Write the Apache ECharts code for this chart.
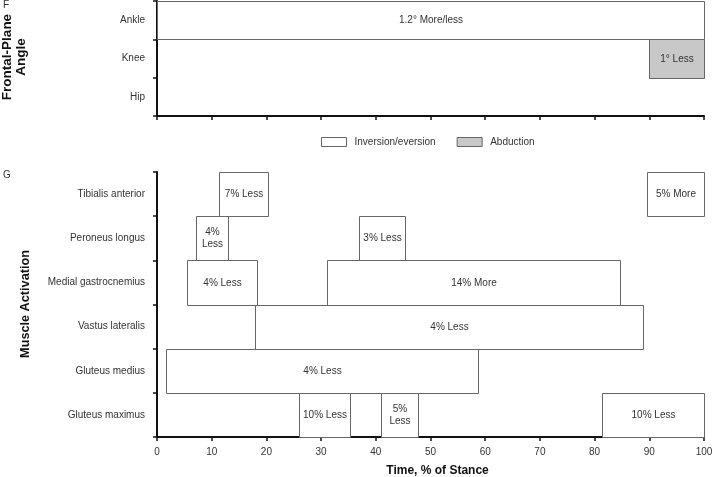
<!DOCTYPE html>
<html>
<head>
<meta charset="utf-8">
<script src="https://cdn.jsdelivr.net/npm/echarts@6/dist/echarts.min.js"></script>
<style>html,body{margin:0;padding:0;background:#fff}#c{width:713px;height:477px}</style>
</head>
<body>
<div id="c"></div>
<script>
// ---- data ----
const joints = ['Ankle', 'Knee', 'Hip'];
const inversionEversion = [['Ankle', 0, 100, '1.2° More/less']];
const abduction = [['Knee', 90, 100, '1° Less']];
const muscles = ['Tibialis anterior', 'Peroneus longus', 'Medial gastrocnemius', 'Vastus lateralis', 'Gluteus medius', 'Gluteus maximus'];
const muscleBars = [
  ['Tibialis anterior', 11.3, 20.3, '7% Less'],
  ['Tibialis anterior', 89.5, 100, '5% More'],
  ['Peroneus longus', 7.2, 13.0, '4%\nLess'],
  ['Peroneus longus', 36.9, 45.4, '3% Less'],
  ['Medial gastrocnemius', 5.5, 18.2, '4% Less'],
  ['Medial gastrocnemius', 31.1, 84.6, '14% More'],
  ['Vastus lateralis', 17.9, 88.9, '4% Less'],
  ['Gluteus medius', 1.6, 58.6, '4% Less'],
  ['Gluteus maximus', 25.9, 35.3, '10% Less'],
  ['Gluteus maximus', 41.0, 47.7, '5%\nLess'],
  ['Gluteus maximus', 81.4, 100, '10% Less']
];
const xMin = 0, xMax = 100, xStep = 10;
const legendNames = ['Inversion/eversion', 'Abduction'];

// ---- styles ----
const FONT = 'Liberation Sans, Arial, sans-serif';
const BORDER = '#666';
const TEXT = '#333';

function makeRender(rows, fill) {
  return function (params, api) {
    const cat = api.value(0);
    const s = api.coord([api.value(1), cat]);
    const e = api.coord([api.value(2), cat]);
    const h = api.size([0, 1])[1];
    const x0 = Math.round(s[0]) + 0.5, x1 = Math.round(e[0]) + 0.5;
    const y0 = Math.round(s[1] - h / 2) + 0.5, y1 = Math.round(s[1] + h / 2) + 0.5;
    return {
      type: 'group',
      children: [
        { type: 'rect', shape: { x: x0, y: y0, width: x1 - x0, height: y1 - y0 },
          style: { fill: fill, stroke: BORDER, lineWidth: 1 } },
        { type: 'text', x: (x0 + x1) / 2, y: (y0 + y1) / 2,
          style: { text: rows[params.dataIndex][3], align: 'center', verticalAlign: 'middle',
                   fill: TEXT, font: '10px ' + FONT, lineHeight: 12 } }
      ]
    };
  };
}
function toData(rows, cats) {
  return rows.map(r => [cats.indexOf(r[0]), r[1], r[2]]);
}

const xCommon = {
  type: 'value', min: xMin, max: xMax, interval: xStep,
  splitLine: { show: false },
  axisLine: { show: true, lineStyle: { color: '#111', width: 2 } },
  axisTick: { show: true, length: 4, lineStyle: { color: '#111', width: 1.5 } }
};
const yCommon = {
  type: 'category', inverse: true,
  axisLine: { show: true, lineStyle: { color: '#111', width: 2 } },
  axisTick: { show: true, length: 4, lineStyle: { color: '#111', width: 1.5 } },
  axisLabel: { color: TEXT, fontSize: 10, fontFamily: FONT, margin: 12 },
  splitLine: { show: false }
};

const chart = echarts.init(document.getElementById('c'), null, { renderer: 'canvas' });
chart.setOption({
  animation: false,
  backgroundColor: '#fff',
  grid: [
    { left: 157, right: 9, top: 1, height: 115, outerBoundsMode: 'none', containLabel: false },
    { left: 157, right: 9, top: 172, height: 265, outerBoundsMode: 'none', containLabel: false }
  ],
  xAxis: [
    Object.assign({}, xCommon, { gridIndex: 0, axisLabel: { show: false } }),
    Object.assign({}, xCommon, { gridIndex: 1,
      axisLabel: { color: TEXT, fontSize: 10, fontFamily: FONT, margin: 10 },
      name: 'Time, % of Stance', nameLocation: 'middle', nameGap: 28,
      nameTextStyle: { fontSize: 12, fontWeight: 'bold', color: '#111', fontFamily: FONT, padding: [0, 0, 0, 14] } })
  ],
  yAxis: [
    Object.assign({}, yCommon, { gridIndex: 0, data: joints }),
    Object.assign({}, yCommon, { gridIndex: 1, data: muscles })
  ],
  legend: {
    left: 321, top: 137, padding: 0, itemWidth: 25, itemHeight: 9, itemGap: 21, icon: 'rect',
    textStyle: { fontSize: 10, color: TEXT, fontFamily: FONT, padding: [0, 0, 0, 3] },
    data: [
      { name: legendNames[0], itemStyle: { color: '#fff', borderColor: BORDER, borderWidth: 1 } },
      { name: legendNames[1], itemStyle: { color: '#c8c8c8', borderColor: BORDER, borderWidth: 1 } }
    ],
    selectedMode: false
  },
  series: [
    { type: 'custom', name: legendNames[0], xAxisIndex: 0, yAxisIndex: 0,
      itemStyle: { color: '#fff', borderColor: BORDER },
      renderItem: makeRender(inversionEversion, '#fff'), encode: { x: [1, 2], y: 0 },
      data: toData(inversionEversion, joints) },
    { type: 'custom', name: legendNames[1], xAxisIndex: 0, yAxisIndex: 0,
      itemStyle: { color: '#c8c8c8', borderColor: BORDER },
      renderItem: makeRender(abduction, '#c8c8c8'), encode: { x: [1, 2], y: 0 },
      data: toData(abduction, joints) },
    { type: 'custom', name: 'Muscle activation', xAxisIndex: 1, yAxisIndex: 1,
      renderItem: makeRender(muscleBars, '#fff'), encode: { x: [1, 2], y: 0 },
      data: toData(muscleBars, muscles) }
  ],
  graphic: [
    { type: 'text', left: 3, top: 0, style: { text: 'F', font: '10px ' + FONT, fill: TEXT } },
    { type: 'text', left: 3, top: 170, style: { text: 'G', font: '10px ' + FONT, fill: TEXT } },
    { type: 'text', x: 14.5, y: 57, rotation: Math.PI / 2,
      style: { text: 'Frontal-Plane\nAngle', font: 'bold 13.5px ' + FONT, fill: '#111',
               align: 'center', verticalAlign: 'middle', lineHeight: 14 } },
    { type: 'text', x: 25, y: 304, rotation: Math.PI / 2,
      style: { text: 'Muscle Activation', font: 'bold 12.7px ' + FONT, fill: '#111',
               align: 'center', verticalAlign: 'middle' } }
  ]
});
</script>
</body>
</html>
